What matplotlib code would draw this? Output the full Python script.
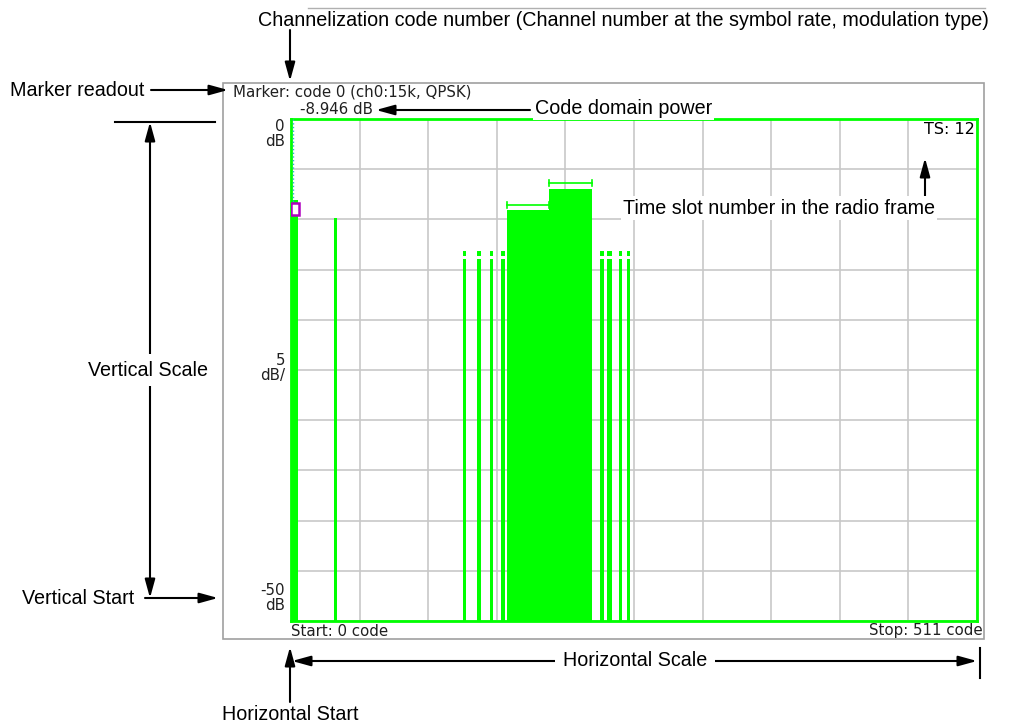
import matplotlib
matplotlib.use('Agg')
import matplotlib.pyplot as plt
from matplotlib.patches import Rectangle
import numpy as np

# code domain power per channel group (start code, width in codes, power dB)
bar_start = [0, 32.3, 128.1, 138.5, 148.0, 156.2, 160.7, 192.2, 230.2, 235.4, 244.0, 250.0]
bar_width = [5.2, 1.8, 2.3, 2.8, 2.7, 3.2, 31.5, 32.2, 2.7, 3.7, 2.5, 2.7]
bar_power = [-8.1, -9.9, -13.9, -13.9, -13.9, -13.9, -9.1, -6.95, -13.9, -13.9, -13.9, -13.9]
# peak marks above the small channels
peak_idx = [2, 3, 4, 5, 8, 9, 10, 11]
peak_power = -13.1
# error bars over the wide block
err_start = [160.7, 192.2]
err_stop = [192.2, 224.4]
err_level = [-8.57, -6.4]

marker_code = 1.5
marker_power = -8.946
y_min, y_max = -50, 0
x_min, x_max = 0, 511

W, H = 1023, 727
fig = plt.figure(figsize=(W / 100, H / 100), dpi=100)

GREEN = '#00ff00'
ax = fig.add_axes([291 / W, 1 - 621 / H, 686 / W, 502 / H])
ax.set_xlim(x_min, x_max)
ax.set_ylim(y_min, y_max)
ax.set_xticks(np.linspace(x_min, x_max, 11))
ax.set_yticks(np.arange(y_min, y_max + 1, 5))
ax.tick_params(length=0, labelbottom=False, labelleft=False)
ax.grid(True, color='#c8c8c8', lw=1.2)
ax.set_axisbelow(True)
for s in ax.spines.values():
    s.set_color(GREEN)
    s.set_linewidth(2)

heights = [p - y_min for p in bar_power]
ax.bar(bar_start, heights, width=bar_width, bottom=y_min, align='edge',
       color=GREEN, linewidth=0, zorder=3)
for i in peak_idx:
    ax.add_patch(Rectangle((bar_start[i], bar_power[i] + 0.3), bar_width[i], peak_power - bar_power[i] - 0.3,
                           facecolor=GREEN, edgecolor='none', zorder=3))
for a, b, lv in zip(err_start, err_stop, err_level):
    ax.plot([a, b], [lv, lv], color=GREEN, lw=1.2, zorder=3)
    ax.plot([a, a], [lv - 0.3, lv + 0.3], color=GREEN, lw=1.2, zorder=3)
    ax.plot([b, b], [lv - 0.3, lv + 0.3], color=GREEN, lw=1.2, zorder=3)

ax.plot([marker_code, marker_code], [y_max, marker_power], color='#30b0d0', lw=1, ls=':', zorder=4)
ax.add_patch(Rectangle((0.3, marker_power - 0.62), 5.6, 1.24, facecolor='white',
                       edgecolor='#b000c0', lw=1.8, zorder=5))

# overlay in pixel coordinates for the screen texts and the callouts
ov = fig.add_axes([0, 0, 1, 1], facecolor='none')
ov.set_xlim(0, W)
ov.set_ylim(H, 0)
ov.axis('off')

ov.add_patch(Rectangle((223, 83), 761, 556, facecolor='none', edgecolor='#a0a0a0', lw=1.2))
ov.plot([308, 985], [8, 8], color='#b0b0b0', lw=1)

scr = dict(family='DejaVu Sans', fontsize=10.8, color='#202020')
ov.text(233, 92, 'Marker: code 0 (ch0:15k, QPSK)', va='center', ha='left', **scr)
ov.text(300, 109, '-8.946 dB', va='center', ha='left', **scr)
ov.text(285, 134, '0\ndB', va='center', ha='right', linespacing=0.95, **scr)
ov.text(285, 368, '5\ndB/', va='center', ha='right', linespacing=0.95, **scr)
ov.text(285, 598, '-50\ndB', va='center', ha='right', linespacing=0.95, **scr)
ov.text(291, 631, 'Start: 0 code', va='center', ha='left', **scr)
ov.text(983, 631, 'Stop: 511 code', va='center', ha='right', **scr)
ov.text(975, 130, 'TS: 12', va='center', ha='right', family='DejaVu Sans', fontsize=11.5, color='black')

lab = dict(family='Liberation Sans', fontsize=14.2, color='black')
box = dict(facecolor='white', edgecolor='none', pad=1.5)
arr = dict(arrowstyle='-|>,head_length=0.8,head_width=0.22', color='black', lw=1.5,
           mutation_scale=14, shrinkA=0, shrinkB=0)
arr2 = dict(arrowstyle='<|-|>,head_length=0.8,head_width=0.22', color='black', lw=1.5,
            mutation_scale=14, shrinkA=0, shrinkB=0)

def arrow(x0, y0, x1, y1, style=arr):
    ov.annotate('', xy=(x1, y1), xytext=(x0, y0), arrowprops=style)

ov.text(258, 21, 'Channelization code number (Channel number at the symbol rate, modulation type)',
        va='center', ha='left', **lab)
arrow(290, 30, 290, 81)

ov.text(10, 90, 'Marker readout', va='center', ha='left', **lab)
arrow(151, 90, 228, 90)

ov.text(535, 108, 'Code domain power', va='center', ha='left', bbox=box, **lab)
arrow(530, 110, 376, 110)

arrow(925, 196, 925, 158)
ov.text(623, 208, 'Time slot number in the radio frame', va='center', ha='left', bbox=box, **lab)

ov.plot([115, 215], [122, 122], color='black', lw=1.5)
arrow(150, 598, 150, 122, arr2)
ov.text(148, 370, 'Vertical Scale', va='center', ha='center',
        bbox=dict(facecolor='white', edgecolor='none', pad=5), **lab)
ov.text(22, 598, 'Vertical Start', va='center', ha='left', **lab)
arrow(145, 598, 218, 598)

arrow(292, 661, 977, 661, arr2)
ov.plot([980, 980], [648, 678], color='black', lw=1.5)
ov.text(635, 661, 'Horizontal Scale', va='center', ha='center',
        bbox=dict(facecolor='white', edgecolor='none', pad=6), **lab)

ov.text(290, 714, 'Horizontal Start', va='center', ha='center', **lab)
arrow(290, 702, 290, 647)

fig.savefig('out.png', dpi=100)
